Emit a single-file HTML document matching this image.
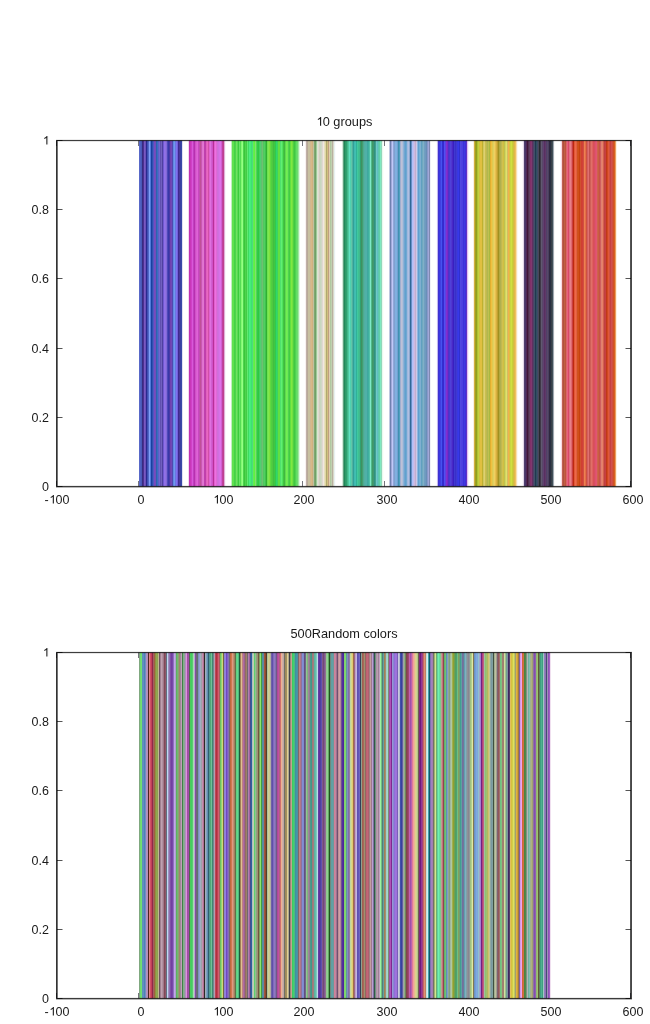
<!DOCTYPE html>
<html><head><meta charset="utf-8"><style>
html,body{margin:0;padding:0;background:#fff;width:650px;height:1024px;overflow:hidden}
body{position:relative}
.o{display:inline-block;position:relative;width:0.556em;height:0}.o svg{position:absolute;left:0;bottom:0;width:0.556em;height:0.688em;fill:#1a1a1a;overflow:visible}
.t{position:absolute;font-family:'Liberation Sans',sans-serif;font-size:12.5px;line-height:14px;color:#1a1a1a;white-space:nowrap;will-change:transform}
</style></head><body>
<svg width="650" height="1024" viewBox="0 0 650 1024" style="position:absolute;left:0;top:0"><line x1="57.0" y1="486.5" x2="62.5" y2="486.5" stroke="#555555" stroke-width="1"/><line x1="631.0" y1="486.5" x2="625.5" y2="486.5" stroke="#555555" stroke-width="1"/><line x1="57.0" y1="417.5" x2="62.5" y2="417.5" stroke="#555555" stroke-width="1"/><line x1="631.0" y1="417.5" x2="625.5" y2="417.5" stroke="#555555" stroke-width="1"/><line x1="57.0" y1="348.5" x2="62.5" y2="348.5" stroke="#555555" stroke-width="1"/><line x1="631.0" y1="348.5" x2="625.5" y2="348.5" stroke="#555555" stroke-width="1"/><line x1="57.0" y1="278.5" x2="62.5" y2="278.5" stroke="#555555" stroke-width="1"/><line x1="631.0" y1="278.5" x2="625.5" y2="278.5" stroke="#555555" stroke-width="1"/><line x1="57.0" y1="209.5" x2="62.5" y2="209.5" stroke="#555555" stroke-width="1"/><line x1="631.0" y1="209.5" x2="625.5" y2="209.5" stroke="#555555" stroke-width="1"/><line x1="57.0" y1="140.5" x2="62.5" y2="140.5" stroke="#555555" stroke-width="1"/><line x1="631.0" y1="140.5" x2="625.5" y2="140.5" stroke="#555555" stroke-width="1"/><line x1="56.5" y1="486.5" x2="56.5" y2="481.0" stroke="#75757d" stroke-width="1"/><line x1="56.5" y1="140.5" x2="56.5" y2="146.0" stroke="#75757d" stroke-width="1"/><line x1="138.5" y1="486.5" x2="138.5" y2="481.0" stroke="#75757d" stroke-width="1"/><line x1="138.5" y1="140.5" x2="138.5" y2="146.0" stroke="#75757d" stroke-width="1"/><line x1="220.5" y1="486.5" x2="220.5" y2="481.0" stroke="#75757d" stroke-width="1"/><line x1="220.5" y1="140.5" x2="220.5" y2="146.0" stroke="#75757d" stroke-width="1"/><line x1="302.5" y1="486.5" x2="302.5" y2="481.0" stroke="#75757d" stroke-width="1"/><line x1="302.5" y1="140.5" x2="302.5" y2="146.0" stroke="#75757d" stroke-width="1"/><line x1="384.5" y1="486.5" x2="384.5" y2="481.0" stroke="#75757d" stroke-width="1"/><line x1="384.5" y1="140.5" x2="384.5" y2="146.0" stroke="#75757d" stroke-width="1"/><line x1="466.5" y1="486.5" x2="466.5" y2="481.0" stroke="#75757d" stroke-width="1"/><line x1="466.5" y1="140.5" x2="466.5" y2="146.0" stroke="#75757d" stroke-width="1"/><line x1="548.5" y1="486.5" x2="548.5" y2="481.0" stroke="#75757d" stroke-width="1"/><line x1="548.5" y1="140.5" x2="548.5" y2="146.0" stroke="#75757d" stroke-width="1"/><line x1="630.5" y1="486.5" x2="630.5" y2="481.0" stroke="#75757d" stroke-width="1"/><line x1="630.5" y1="140.5" x2="630.5" y2="146.0" stroke="#75757d" stroke-width="1"/><rect x="139.00" y="140.5" width="1.00" height="346.0" fill="#5868c8"/><rect x="140.00" y="140.5" width="1.00" height="346.0" fill="#5060c0"/><rect x="141.00" y="140.5" width="1.00" height="346.0" fill="#4858b8"/><rect x="142.00" y="140.5" width="1.00" height="346.0" fill="#3a2a80"/><rect x="143.00" y="140.5" width="1.00" height="346.0" fill="#4a3090"/><rect x="144.00" y="140.5" width="1.00" height="346.0" fill="#7a58c0"/><rect x="145.00" y="140.5" width="1.00" height="346.0" fill="#6a50b8"/><rect x="146.00" y="140.5" width="1.00" height="346.0" fill="#2a2890"/><rect x="147.00" y="140.5" width="1.00" height="346.0" fill="#4050b0"/><rect x="148.00" y="140.5" width="1.00" height="346.0" fill="#5068c8"/><rect x="149.00" y="140.5" width="1.00" height="346.0" fill="#80a0f8"/><rect x="150.00" y="140.5" width="1.00" height="346.0" fill="#5078d8"/><rect x="151.00" y="140.5" width="1.00" height="346.0" fill="#1840a0"/><rect x="152.00" y="140.5" width="1.00" height="346.0" fill="#3050b0"/><rect x="153.00" y="140.5" width="1.00" height="346.0" fill="#5058c0"/><rect x="154.00" y="140.5" width="1.00" height="346.0" fill="#7a48c0"/><rect x="155.00" y="140.5" width="1.00" height="346.0" fill="#7050b8"/><rect x="156.00" y="140.5" width="1.00" height="346.0" fill="#3060b0"/><rect x="157.00" y="140.5" width="1.00" height="346.0" fill="#3870c0"/><rect x="158.00" y="140.5" width="1.00" height="346.0" fill="#5a60c8"/><rect x="159.00" y="140.5" width="1.00" height="346.0" fill="#7068d0"/><rect x="160.00" y="140.5" width="1.00" height="346.0" fill="#6050b0"/><rect x="161.00" y="140.5" width="1.00" height="346.0" fill="#7060c0"/><rect x="162.00" y="140.5" width="1.00" height="346.0" fill="#5040a0"/><rect x="163.00" y="140.5" width="1.00" height="346.0" fill="#7058d0"/><rect x="164.00" y="140.5" width="1.00" height="346.0" fill="#9070e8"/><rect x="165.00" y="140.5" width="1.00" height="346.0" fill="#9070e0"/><rect x="166.00" y="140.5" width="1.00" height="346.0" fill="#8068d8"/><rect x="167.00" y="140.5" width="1.00" height="346.0" fill="#5048b8"/><rect x="168.00" y="140.5" width="1.00" height="346.0" fill="#3838a8"/><rect x="169.00" y="140.5" width="1.00" height="346.0" fill="#4838a8"/><rect x="170.00" y="140.5" width="1.00" height="346.0" fill="#7040b0"/><rect x="171.00" y="140.5" width="1.00" height="346.0" fill="#7048b8"/><rect x="172.00" y="140.5" width="1.00" height="346.0" fill="#5048b0"/><rect x="173.00" y="140.5" width="1.00" height="346.0" fill="#6088e0"/><rect x="174.00" y="140.5" width="1.00" height="346.0" fill="#7098f0"/><rect x="175.00" y="140.5" width="1.00" height="346.0" fill="#6878e0"/><rect x="176.00" y="140.5" width="1.00" height="346.0" fill="#8070f0"/><rect x="177.00" y="140.5" width="1.00" height="346.0" fill="#7060d8"/><rect x="178.00" y="140.5" width="1.00" height="346.0" fill="#402890"/><rect x="179.00" y="140.5" width="1.00" height="346.0" fill="#483898"/><rect x="180.00" y="140.5" width="1.00" height="346.0" fill="#3840a0"/><rect x="181.00" y="140.5" width="1.00" height="346.0" fill="#3848a8"/><rect x="182.00" y="140.5" width="1.00" height="346.0" fill="#e0e0f0"/><rect x="188.00" y="140.5" width="1.00" height="346.0" fill="#f0d8f0"/><rect x="189.00" y="140.5" width="1.00" height="346.0" fill="#c030b0"/><rect x="190.00" y="140.5" width="1.00" height="346.0" fill="#c838b8"/><rect x="191.00" y="140.5" width="1.00" height="346.0" fill="#d040c8"/><rect x="192.00" y="140.5" width="1.00" height="346.0" fill="#d858d8"/><rect x="193.00" y="140.5" width="1.00" height="346.0" fill="#c040c0"/><rect x="194.00" y="140.5" width="1.00" height="346.0" fill="#b830b0"/><rect x="195.00" y="140.5" width="1.00" height="346.0" fill="#d050c8"/><rect x="196.00" y="140.5" width="1.00" height="346.0" fill="#d860d0"/><rect x="197.00" y="140.5" width="1.00" height="346.0" fill="#e060d8"/><rect x="198.00" y="140.5" width="1.00" height="346.0" fill="#c848c0"/><rect x="199.00" y="140.5" width="1.00" height="346.0" fill="#c050b0"/><rect x="200.00" y="140.5" width="1.00" height="346.0" fill="#c05098"/><rect x="201.00" y="140.5" width="1.00" height="346.0" fill="#c858b0"/><rect x="202.00" y="140.5" width="1.00" height="346.0" fill="#e070d0"/><rect x="203.00" y="140.5" width="1.00" height="346.0" fill="#e078d0"/><rect x="204.00" y="140.5" width="1.00" height="346.0" fill="#c040b0"/><rect x="205.00" y="140.5" width="1.00" height="346.0" fill="#c040a8"/><rect x="206.00" y="140.5" width="1.00" height="346.0" fill="#e060c0"/><rect x="207.00" y="140.5" width="1.00" height="346.0" fill="#e868c0"/><rect x="208.00" y="140.5" width="1.00" height="346.0" fill="#d050a8"/><rect x="209.00" y="140.5" width="1.00" height="346.0" fill="#e060d0"/><rect x="210.00" y="140.5" width="1.00" height="346.0" fill="#e070e0"/><rect x="211.00" y="140.5" width="1.00" height="346.0" fill="#d060d0"/><rect x="212.00" y="140.5" width="1.00" height="346.0" fill="#d050c8"/><rect x="213.00" y="140.5" width="1.00" height="346.0" fill="#b83098"/><rect x="214.00" y="140.5" width="1.00" height="346.0" fill="#e060d0"/><rect x="215.00" y="140.5" width="1.00" height="346.0" fill="#f070e0"/><rect x="216.00" y="140.5" width="1.00" height="346.0" fill="#e068d8"/><rect x="217.00" y="140.5" width="1.00" height="346.0" fill="#d070d8"/><rect x="218.00" y="140.5" width="1.00" height="346.0" fill="#d070e0"/><rect x="219.00" y="140.5" width="1.00" height="346.0" fill="#d870e8"/><rect x="220.00" y="140.5" width="1.00" height="346.0" fill="#e070e8"/><rect x="221.00" y="140.5" width="1.00" height="346.0" fill="#d060d0"/><rect x="222.00" y="140.5" width="1.00" height="346.0" fill="#c040a0"/><rect x="223.00" y="140.5" width="1.00" height="346.0" fill="#c04090"/><rect x="224.00" y="140.5" width="1.00" height="346.0" fill="#e0b0d8"/><rect x="225.00" y="140.5" width="1.00" height="346.0" fill="#fbf4fb"/><rect x="231.00" y="140.5" width="1.00" height="346.0" fill="#c0f0c0"/><rect x="232.00" y="140.5" width="1.00" height="346.0" fill="#60e050"/><rect x="233.00" y="140.5" width="1.00" height="346.0" fill="#60e050"/><rect x="234.00" y="140.5" width="1.00" height="346.0" fill="#45d345"/><rect x="235.00" y="140.5" width="1.00" height="346.0" fill="#4ed34e"/><rect x="236.00" y="140.5" width="1.00" height="346.0" fill="#70e25f"/><rect x="237.00" y="140.5" width="1.00" height="346.0" fill="#56db56"/><rect x="238.00" y="140.5" width="1.00" height="346.0" fill="#3ccb3c"/><rect x="239.00" y="140.5" width="1.00" height="346.0" fill="#68e268"/><rect x="240.00" y="140.5" width="1.00" height="346.0" fill="#56db56"/><rect x="241.00" y="140.5" width="1.00" height="346.0" fill="#82fa71"/><rect x="242.00" y="140.5" width="1.00" height="346.0" fill="#95ff84"/><rect x="243.00" y="140.5" width="1.00" height="346.0" fill="#4ed34e"/><rect x="244.00" y="140.5" width="1.00" height="346.0" fill="#39c739"/><rect x="245.00" y="140.5" width="1.00" height="346.0" fill="#4ed34e"/><rect x="246.00" y="140.5" width="1.00" height="346.0" fill="#45cb45"/><rect x="247.00" y="140.5" width="1.00" height="346.0" fill="#5feb70"/><rect x="248.00" y="140.5" width="1.00" height="346.0" fill="#3cdc60"/><rect x="249.00" y="140.5" width="1.00" height="346.0" fill="#4dec82"/><rect x="250.00" y="140.5" width="1.00" height="346.0" fill="#45ec7a"/><rect x="251.00" y="140.5" width="1.00" height="346.0" fill="#3ce471"/><rect x="252.00" y="140.5" width="1.00" height="346.0" fill="#50d880"/><rect x="253.00" y="140.5" width="1.00" height="346.0" fill="#60f050"/><rect x="254.00" y="140.5" width="1.00" height="346.0" fill="#60f040"/><rect x="255.00" y="140.5" width="1.00" height="346.0" fill="#80e070"/><rect x="256.00" y="140.5" width="1.00" height="346.0" fill="#50d850"/><rect x="257.00" y="140.5" width="1.00" height="346.0" fill="#30c850"/><rect x="258.00" y="140.5" width="1.00" height="346.0" fill="#30c840"/><rect x="259.00" y="140.5" width="1.00" height="346.0" fill="#40d060"/><rect x="260.00" y="140.5" width="1.00" height="346.0" fill="#50d070"/><rect x="261.00" y="140.5" width="1.00" height="346.0" fill="#60c070"/><rect x="262.00" y="140.5" width="1.00" height="346.0" fill="#70c070"/><rect x="263.00" y="140.5" width="1.00" height="346.0" fill="#50c860"/><rect x="264.00" y="140.5" width="1.00" height="346.0" fill="#50d060"/><rect x="265.00" y="140.5" width="1.00" height="346.0" fill="#40c050"/><rect x="266.00" y="140.5" width="1.00" height="346.0" fill="#30b030"/><rect x="267.00" y="140.5" width="1.00" height="346.0" fill="#70e050"/><rect x="268.00" y="140.5" width="1.00" height="346.0" fill="#80e850"/><rect x="269.00" y="140.5" width="1.00" height="346.0" fill="#80e040"/><rect x="270.00" y="140.5" width="1.00" height="346.0" fill="#60d840"/><rect x="271.00" y="140.5" width="1.00" height="346.0" fill="#50d040"/><rect x="272.00" y="140.5" width="1.00" height="346.0" fill="#50c840"/><rect x="273.00" y="140.5" width="1.00" height="346.0" fill="#40c040"/><rect x="274.00" y="140.5" width="1.00" height="346.0" fill="#40c840"/><rect x="275.00" y="140.5" width="1.00" height="346.0" fill="#30c850"/><rect x="276.00" y="140.5" width="1.00" height="346.0" fill="#30d868"/><rect x="277.00" y="140.5" width="1.00" height="346.0" fill="#40d060"/><rect x="278.00" y="140.5" width="1.00" height="346.0" fill="#60e040"/><rect x="279.00" y="140.5" width="1.00" height="346.0" fill="#60e040"/><rect x="280.00" y="140.5" width="1.00" height="346.0" fill="#50e070"/><rect x="281.00" y="140.5" width="1.00" height="346.0" fill="#60f070"/><rect x="282.00" y="140.5" width="1.00" height="346.0" fill="#50e060"/><rect x="283.00" y="140.5" width="1.00" height="346.0" fill="#40c840"/><rect x="284.00" y="140.5" width="1.00" height="346.0" fill="#40b840"/><rect x="285.00" y="140.5" width="1.00" height="346.0" fill="#60d850"/><rect x="286.00" y="140.5" width="1.00" height="346.0" fill="#70f050"/><rect x="287.00" y="140.5" width="1.00" height="346.0" fill="#70e858"/><rect x="288.00" y="140.5" width="1.00" height="346.0" fill="#50d050"/><rect x="289.00" y="140.5" width="1.00" height="346.0" fill="#40d040"/><rect x="290.00" y="140.5" width="1.00" height="346.0" fill="#60e040"/><rect x="291.00" y="140.5" width="1.00" height="346.0" fill="#80e840"/><rect x="292.00" y="140.5" width="1.00" height="346.0" fill="#70e040"/><rect x="293.00" y="140.5" width="1.00" height="346.0" fill="#50d040"/><rect x="294.00" y="140.5" width="1.00" height="346.0" fill="#40c840"/><rect x="295.00" y="140.5" width="1.00" height="346.0" fill="#50d050"/><rect x="296.00" y="140.5" width="1.00" height="346.0" fill="#60e060"/><rect x="297.00" y="140.5" width="1.00" height="346.0" fill="#70d870"/><rect x="298.00" y="140.5" width="1.00" height="346.0" fill="#a0e8a0"/><rect x="299.00" y="140.5" width="1.00" height="346.0" fill="#e0f8e0"/><rect x="305.00" y="140.5" width="1.00" height="346.0" fill="#f8f0f0"/><rect x="306.00" y="140.5" width="1.00" height="346.0" fill="#c0b0a8"/><rect x="307.00" y="140.5" width="1.00" height="346.0" fill="#b8a898"/><rect x="308.00" y="140.5" width="1.00" height="346.0" fill="#c8c0a0"/><rect x="309.00" y="140.5" width="1.00" height="346.0" fill="#c8c0a0"/><rect x="310.00" y="140.5" width="1.00" height="346.0" fill="#d0b890"/><rect x="311.00" y="140.5" width="1.00" height="346.0" fill="#d8b888"/><rect x="312.00" y="140.5" width="1.00" height="346.0" fill="#d0b080"/><rect x="313.00" y="140.5" width="1.00" height="346.0" fill="#c0c0a0"/><rect x="314.00" y="140.5" width="1.00" height="346.0" fill="#80a870"/><rect x="315.00" y="140.5" width="1.00" height="346.0" fill="#70a068"/><rect x="316.00" y="140.5" width="1.00" height="346.0" fill="#a0c898"/><rect x="317.00" y="140.5" width="1.00" height="346.0" fill="#d8e8d0"/><rect x="318.00" y="140.5" width="1.00" height="346.0" fill="#e0d8d0"/><rect x="319.00" y="140.5" width="1.00" height="346.0" fill="#d0d0c0"/><rect x="320.00" y="140.5" width="1.00" height="346.0" fill="#c8d8c0"/><rect x="321.00" y="140.5" width="1.00" height="346.0" fill="#d0d8c8"/><rect x="322.00" y="140.5" width="1.00" height="346.0" fill="#e0d8d0"/><rect x="323.00" y="140.5" width="1.00" height="346.0" fill="#f0e8e0"/><rect x="324.00" y="140.5" width="1.00" height="346.0" fill="#e8e0c0"/><rect x="325.00" y="140.5" width="1.00" height="346.0" fill="#e0d8a0"/><rect x="326.00" y="140.5" width="1.00" height="346.0" fill="#b0a870"/><rect x="327.00" y="140.5" width="1.00" height="346.0" fill="#d0c080"/><rect x="328.00" y="140.5" width="1.00" height="346.0" fill="#c0a080"/><rect x="329.00" y="140.5" width="1.00" height="346.0" fill="#e0d0b0"/><rect x="330.00" y="140.5" width="1.00" height="346.0" fill="#b0c8a0"/><rect x="331.00" y="140.5" width="1.00" height="346.0" fill="#c0d0b0"/><rect x="332.00" y="140.5" width="1.00" height="346.0" fill="#b8b0a0"/><rect x="333.00" y="140.5" width="1.00" height="346.0" fill="#d8d8c8"/><rect x="334.00" y="140.5" width="1.00" height="346.0" fill="#e8f0f0"/><rect x="335.00" y="140.5" width="1.00" height="346.0" fill="#fafdfd"/><rect x="341.00" y="140.5" width="1.00" height="346.0" fill="#fcfffe"/><rect x="342.00" y="140.5" width="1.00" height="346.0" fill="#d0e8d8"/><rect x="343.00" y="140.5" width="1.00" height="346.0" fill="#60a080"/><rect x="344.00" y="140.5" width="1.00" height="346.0" fill="#208858"/><rect x="345.00" y="140.5" width="1.00" height="346.0" fill="#309868"/><rect x="346.00" y="140.5" width="1.00" height="346.0" fill="#30a070"/><rect x="347.00" y="140.5" width="1.00" height="346.0" fill="#40b888"/><rect x="348.00" y="140.5" width="1.00" height="346.0" fill="#50c8a0"/><rect x="349.00" y="140.5" width="1.00" height="346.0" fill="#60e0c0"/><rect x="350.00" y="140.5" width="1.00" height="346.0" fill="#50d0b0"/><rect x="351.00" y="140.5" width="1.00" height="346.0" fill="#60c8a8"/><rect x="352.00" y="140.5" width="1.00" height="346.0" fill="#50b0a0"/><rect x="353.00" y="140.5" width="1.00" height="346.0" fill="#30a098"/><rect x="354.00" y="140.5" width="1.00" height="346.0" fill="#40b8b0"/><rect x="355.00" y="140.5" width="1.00" height="346.0" fill="#40c0b0"/><rect x="356.00" y="140.5" width="1.00" height="346.0" fill="#30b098"/><rect x="357.00" y="140.5" width="1.00" height="346.0" fill="#40c8a0"/><rect x="358.00" y="140.5" width="1.00" height="346.0" fill="#40c090"/><rect x="359.00" y="140.5" width="1.00" height="346.0" fill="#40b890"/><rect x="360.00" y="140.5" width="1.00" height="346.0" fill="#30a070"/><rect x="361.00" y="140.5" width="1.00" height="346.0" fill="#409060"/><rect x="362.00" y="140.5" width="1.00" height="346.0" fill="#40a070"/><rect x="363.00" y="140.5" width="1.00" height="346.0" fill="#50a890"/><rect x="364.00" y="140.5" width="1.00" height="346.0" fill="#50b0a0"/><rect x="365.00" y="140.5" width="1.00" height="346.0" fill="#50b0a8"/><rect x="366.00" y="140.5" width="1.00" height="346.0" fill="#50b0a8"/><rect x="367.00" y="140.5" width="1.00" height="346.0" fill="#40a8a0"/><rect x="368.00" y="140.5" width="1.00" height="346.0" fill="#40b0a0"/><rect x="369.00" y="140.5" width="1.00" height="346.0" fill="#50c0a8"/><rect x="370.00" y="140.5" width="1.00" height="346.0" fill="#80e8c8"/><rect x="371.00" y="140.5" width="1.00" height="346.0" fill="#50b888"/><rect x="372.00" y="140.5" width="1.00" height="346.0" fill="#409868"/><rect x="373.00" y="140.5" width="1.00" height="346.0" fill="#409870"/><rect x="374.00" y="140.5" width="1.00" height="346.0" fill="#309080"/><rect x="375.00" y="140.5" width="1.00" height="346.0" fill="#40a090"/><rect x="376.00" y="140.5" width="1.00" height="346.0" fill="#70c8c8"/><rect x="377.00" y="140.5" width="1.00" height="346.0" fill="#60c0c0"/><rect x="378.00" y="140.5" width="1.00" height="346.0" fill="#60c8b0"/><rect x="379.00" y="140.5" width="1.00" height="346.0" fill="#60d0a8"/><rect x="380.00" y="140.5" width="1.00" height="346.0" fill="#80e8c0"/><rect x="381.00" y="140.5" width="1.00" height="346.0" fill="#90d8b8"/><rect x="382.00" y="140.5" width="1.00" height="346.0" fill="#e8f8f0"/><rect x="383.00" y="140.5" width="1.00" height="346.0" fill="#fcfff8"/><rect x="389.00" y="140.5" width="1.00" height="346.0" fill="#c0c8e0"/><rect x="390.00" y="140.5" width="1.00" height="346.0" fill="#7080b0"/><rect x="391.00" y="140.5" width="1.00" height="346.0" fill="#a0a8d8"/><rect x="392.00" y="140.5" width="1.00" height="346.0" fill="#c0c8f8"/><rect x="393.00" y="140.5" width="1.00" height="346.0" fill="#90a8d8"/><rect x="394.00" y="140.5" width="1.00" height="346.0" fill="#80a0d0"/><rect x="395.00" y="140.5" width="1.00" height="346.0" fill="#80b0e0"/><rect x="396.00" y="140.5" width="1.00" height="346.0" fill="#80b0e0"/><rect x="397.00" y="140.5" width="1.00" height="346.0" fill="#70a0d0"/><rect x="398.00" y="140.5" width="1.00" height="346.0" fill="#4090b0"/><rect x="399.00" y="140.5" width="1.00" height="346.0" fill="#50a0c0"/><rect x="400.00" y="140.5" width="1.00" height="346.0" fill="#a0b0d0"/><rect x="401.00" y="140.5" width="1.00" height="346.0" fill="#c0c0d8"/><rect x="402.00" y="140.5" width="1.00" height="346.0" fill="#b0c0d8"/><rect x="403.00" y="140.5" width="1.00" height="346.0" fill="#90b0d8"/><rect x="404.00" y="140.5" width="1.00" height="346.0" fill="#70a8d0"/><rect x="405.00" y="140.5" width="1.00" height="346.0" fill="#60a0d0"/><rect x="406.00" y="140.5" width="1.00" height="346.0" fill="#70a8d0"/><rect x="407.00" y="140.5" width="1.00" height="346.0" fill="#a0b8e0"/><rect x="408.00" y="140.5" width="1.00" height="346.0" fill="#b0c0e0"/><rect x="409.00" y="140.5" width="1.00" height="346.0" fill="#90a8d0"/><rect x="410.00" y="140.5" width="1.00" height="346.0" fill="#306898"/><rect x="411.00" y="140.5" width="1.00" height="346.0" fill="#6890c8"/><rect x="412.00" y="140.5" width="1.00" height="346.0" fill="#b0c0f8"/><rect x="413.00" y="140.5" width="1.00" height="346.0" fill="#c0c0f0"/><rect x="414.00" y="140.5" width="1.00" height="346.0" fill="#d0b8e0"/><rect x="415.00" y="140.5" width="1.00" height="346.0" fill="#c0b0d0"/><rect x="416.00" y="140.5" width="1.00" height="346.0" fill="#d0c8e8"/><rect x="417.00" y="140.5" width="1.00" height="346.0" fill="#90b8e0"/><rect x="418.00" y="140.5" width="1.00" height="346.0" fill="#60a0d0"/><rect x="419.00" y="140.5" width="1.00" height="346.0" fill="#70b0d8"/><rect x="420.00" y="140.5" width="1.00" height="346.0" fill="#80b0d0"/><rect x="421.00" y="140.5" width="1.00" height="346.0" fill="#60a0c0"/><rect x="422.00" y="140.5" width="1.00" height="346.0" fill="#70a8c0"/><rect x="423.00" y="140.5" width="1.00" height="346.0" fill="#80b0c8"/><rect x="424.00" y="140.5" width="1.00" height="346.0" fill="#70a0c0"/><rect x="425.00" y="140.5" width="1.00" height="346.0" fill="#7098c0"/><rect x="426.00" y="140.5" width="1.00" height="346.0" fill="#6890b8"/><rect x="427.00" y="140.5" width="1.00" height="346.0" fill="#8898c8"/><rect x="428.00" y="140.5" width="1.00" height="346.0" fill="#a0a8d8"/><rect x="429.00" y="140.5" width="1.00" height="346.0" fill="#8088b0"/><rect x="430.00" y="140.5" width="1.00" height="346.0" fill="#f0f0f8"/><rect x="436.00" y="140.5" width="1.00" height="346.0" fill="#fcfaff"/><rect x="437.00" y="140.5" width="1.00" height="346.0" fill="#c0b8f0"/><rect x="438.00" y="140.5" width="1.00" height="346.0" fill="#4030d0"/><rect x="439.00" y="140.5" width="1.00" height="346.0" fill="#3838e0"/><rect x="440.00" y="140.5" width="1.00" height="346.0" fill="#4040e0"/><rect x="441.00" y="140.5" width="1.00" height="346.0" fill="#4850f0"/><rect x="442.00" y="140.5" width="1.00" height="346.0" fill="#3030d0"/><rect x="443.00" y="140.5" width="1.00" height="346.0" fill="#3828d0"/><rect x="444.00" y="140.5" width="1.00" height="346.0" fill="#5050f0"/><rect x="445.00" y="140.5" width="1.00" height="346.0" fill="#6040e0"/><rect x="446.00" y="140.5" width="1.00" height="346.0" fill="#8030d0"/><rect x="447.00" y="140.5" width="1.00" height="346.0" fill="#7828c8"/><rect x="448.00" y="140.5" width="1.00" height="346.0" fill="#5030c8"/><rect x="449.00" y="140.5" width="1.00" height="346.0" fill="#4838d0"/><rect x="450.00" y="140.5" width="1.00" height="346.0" fill="#5040d8"/><rect x="451.00" y="140.5" width="1.00" height="346.0" fill="#5038d0"/><rect x="452.00" y="140.5" width="1.00" height="346.0" fill="#4828c8"/><rect x="453.00" y="140.5" width="1.00" height="346.0" fill="#3820c0"/><rect x="454.00" y="140.5" width="1.00" height="346.0" fill="#4038d0"/><rect x="455.00" y="140.5" width="1.00" height="346.0" fill="#3830c8"/><rect x="456.00" y="140.5" width="1.00" height="346.0" fill="#4038d0"/><rect x="457.00" y="140.5" width="1.00" height="346.0" fill="#3838e0"/><rect x="458.00" y="140.5" width="1.00" height="346.0" fill="#3838e8"/><rect x="459.00" y="140.5" width="1.00" height="346.0" fill="#3030d0"/><rect x="460.00" y="140.5" width="1.00" height="346.0" fill="#5048e0"/><rect x="461.00" y="140.5" width="1.00" height="346.0" fill="#5040e0"/><rect x="462.00" y="140.5" width="1.00" height="346.0" fill="#4840e0"/><rect x="463.00" y="140.5" width="1.00" height="346.0" fill="#4030d8"/><rect x="464.00" y="140.5" width="1.00" height="346.0" fill="#4038e0"/><rect x="465.00" y="140.5" width="1.00" height="346.0" fill="#4030d8"/><rect x="466.00" y="140.5" width="1.00" height="346.0" fill="#6030c8"/><rect x="467.00" y="140.5" width="1.00" height="346.0" fill="#e0c0f0"/><rect x="468.00" y="140.5" width="1.00" height="346.0" fill="#f8f0ff"/><rect x="473.00" y="140.5" width="1.00" height="346.0" fill="#f8f0e0"/><rect x="474.00" y="140.5" width="1.00" height="346.0" fill="#d0b040"/><rect x="475.00" y="140.5" width="1.00" height="346.0" fill="#a0a020"/><rect x="476.00" y="140.5" width="1.00" height="346.0" fill="#90a020"/><rect x="477.00" y="140.5" width="1.00" height="346.0" fill="#b0c030"/><rect x="478.00" y="140.5" width="1.00" height="346.0" fill="#c0d040"/><rect x="479.00" y="140.5" width="1.00" height="346.0" fill="#d0c040"/><rect x="480.00" y="140.5" width="1.00" height="346.0" fill="#e0c040"/><rect x="481.00" y="140.5" width="1.00" height="346.0" fill="#e0c040"/><rect x="482.00" y="140.5" width="1.00" height="346.0" fill="#c0b030"/><rect x="483.00" y="140.5" width="1.00" height="346.0" fill="#d0c860"/><rect x="484.00" y="140.5" width="1.00" height="346.0" fill="#e0d070"/><rect x="485.00" y="140.5" width="1.00" height="346.0" fill="#c8c050"/><rect x="486.00" y="140.5" width="1.00" height="346.0" fill="#c0b850"/><rect x="487.00" y="140.5" width="1.00" height="346.0" fill="#b0b850"/><rect x="488.00" y="140.5" width="1.00" height="346.0" fill="#c0c050"/><rect x="489.00" y="140.5" width="1.00" height="346.0" fill="#a8b840"/><rect x="490.00" y="140.5" width="1.00" height="346.0" fill="#e0b030"/><rect x="491.00" y="140.5" width="1.00" height="346.0" fill="#f0c040"/><rect x="492.00" y="140.5" width="1.00" height="346.0" fill="#e0c850"/><rect x="493.00" y="140.5" width="1.00" height="346.0" fill="#e0d060"/><rect x="494.00" y="140.5" width="1.00" height="346.0" fill="#f0d060"/><rect x="495.00" y="140.5" width="1.00" height="346.0" fill="#e8c050"/><rect x="496.00" y="140.5" width="1.00" height="346.0" fill="#d8b040"/><rect x="497.00" y="140.5" width="1.00" height="346.0" fill="#c0a030"/><rect x="498.00" y="140.5" width="1.00" height="346.0" fill="#a09020"/><rect x="499.00" y="140.5" width="1.00" height="346.0" fill="#b0a840"/><rect x="500.00" y="140.5" width="1.00" height="346.0" fill="#b0b050"/><rect x="501.00" y="140.5" width="1.00" height="346.0" fill="#c0b850"/><rect x="502.00" y="140.5" width="1.00" height="346.0" fill="#d0c050"/><rect x="503.00" y="140.5" width="1.00" height="346.0" fill="#d0c040"/><rect x="504.00" y="140.5" width="1.00" height="346.0" fill="#c0c050"/><rect x="505.00" y="140.5" width="1.00" height="346.0" fill="#d0d860"/><rect x="506.00" y="140.5" width="1.00" height="346.0" fill="#e0e070"/><rect x="507.00" y="140.5" width="1.00" height="346.0" fill="#d0c060"/><rect x="508.00" y="140.5" width="1.00" height="346.0" fill="#f0b050"/><rect x="509.00" y="140.5" width="1.00" height="346.0" fill="#e0c040"/><rect x="510.00" y="140.5" width="1.00" height="346.0" fill="#c8d840"/><rect x="511.00" y="140.5" width="1.00" height="346.0" fill="#d0e040"/><rect x="512.00" y="140.5" width="1.00" height="346.0" fill="#c8d038"/><rect x="513.00" y="140.5" width="1.00" height="346.0" fill="#d0c040"/><rect x="514.00" y="140.5" width="1.00" height="346.0" fill="#e0b848"/><rect x="515.00" y="140.5" width="1.00" height="346.0" fill="#f0c060"/><rect x="516.00" y="140.5" width="1.00" height="346.0" fill="#f8e0b0"/><rect x="517.00" y="140.5" width="1.00" height="346.0" fill="#fcf8f0"/><rect x="522.00" y="140.5" width="1.00" height="346.0" fill="#fcf8fc"/><rect x="523.00" y="140.5" width="1.00" height="346.0" fill="#e0d8e8"/><rect x="524.00" y="140.5" width="1.00" height="346.0" fill="#504070"/><rect x="525.00" y="140.5" width="1.00" height="346.0" fill="#483868"/><rect x="526.00" y="140.5" width="1.00" height="346.0" fill="#502858"/><rect x="527.00" y="140.5" width="1.00" height="346.0" fill="#401838"/><rect x="528.00" y="140.5" width="1.00" height="346.0" fill="#503050"/><rect x="529.00" y="140.5" width="1.00" height="346.0" fill="#604060"/><rect x="530.00" y="140.5" width="1.00" height="346.0" fill="#803068"/><rect x="531.00" y="140.5" width="1.00" height="346.0" fill="#803870"/><rect x="532.00" y="140.5" width="1.00" height="346.0" fill="#603060"/><rect x="533.00" y="140.5" width="1.00" height="346.0" fill="#504068"/><rect x="534.00" y="140.5" width="1.00" height="346.0" fill="#405068"/><rect x="535.00" y="140.5" width="1.00" height="346.0" fill="#203850"/><rect x="536.00" y="140.5" width="1.00" height="346.0" fill="#305060"/><rect x="537.00" y="140.5" width="1.00" height="346.0" fill="#404868"/><rect x="538.00" y="140.5" width="1.00" height="346.0" fill="#484858"/><rect x="539.00" y="140.5" width="1.00" height="346.0" fill="#282830"/><rect x="540.00" y="140.5" width="1.00" height="346.0" fill="#403848"/><rect x="541.00" y="140.5" width="1.00" height="346.0" fill="#605870"/><rect x="542.00" y="140.5" width="1.00" height="346.0" fill="#584868"/><rect x="543.00" y="140.5" width="1.00" height="346.0" fill="#604070"/><rect x="544.00" y="140.5" width="1.00" height="346.0" fill="#583060"/><rect x="545.00" y="140.5" width="1.00" height="346.0" fill="#603868"/><rect x="546.00" y="140.5" width="1.00" height="346.0" fill="#504068"/><rect x="547.00" y="140.5" width="1.00" height="346.0" fill="#584868"/><rect x="548.00" y="140.5" width="1.00" height="346.0" fill="#484060"/><rect x="549.00" y="140.5" width="1.00" height="346.0" fill="#302840"/><rect x="550.00" y="140.5" width="1.00" height="346.0" fill="#283040"/><rect x="551.00" y="140.5" width="1.00" height="346.0" fill="#384048"/><rect x="552.00" y="140.5" width="1.00" height="346.0" fill="#405058"/><rect x="553.00" y="140.5" width="1.00" height="346.0" fill="#a0a8b0"/><rect x="554.00" y="140.5" width="1.00" height="346.0" fill="#f8f8f8"/><rect x="560.00" y="140.5" width="1.00" height="346.0" fill="#fff4fc"/><rect x="561.00" y="140.5" width="1.00" height="346.0" fill="#f8d8e0"/><rect x="562.00" y="140.5" width="1.00" height="346.0" fill="#c06050"/><rect x="563.00" y="140.5" width="1.00" height="346.0" fill="#b05040"/><rect x="564.00" y="140.5" width="1.00" height="346.0" fill="#c06040"/><rect x="565.00" y="140.5" width="1.00" height="346.0" fill="#c05040"/><rect x="566.00" y="140.5" width="1.00" height="346.0" fill="#d86868"/><rect x="567.00" y="140.5" width="1.00" height="346.0" fill="#e86080"/><rect x="568.00" y="140.5" width="1.00" height="346.0" fill="#d84868"/><rect x="569.00" y="140.5" width="1.00" height="346.0" fill="#e07080"/><rect x="570.00" y="140.5" width="1.00" height="346.0" fill="#e88088"/><rect x="571.00" y="140.5" width="1.00" height="346.0" fill="#e06870"/><rect x="572.00" y="140.5" width="1.00" height="346.0" fill="#c84040"/><rect x="573.00" y="140.5" width="1.00" height="346.0" fill="#c02810"/><rect x="574.00" y="140.5" width="1.00" height="346.0" fill="#e05838"/><rect x="575.00" y="140.5" width="1.00" height="346.0" fill="#f06848"/><rect x="576.00" y="140.5" width="1.00" height="346.0" fill="#e06040"/><rect x="577.00" y="140.5" width="1.00" height="346.0" fill="#d05020"/><rect x="578.00" y="140.5" width="1.00" height="346.0" fill="#d05018"/><rect x="579.00" y="140.5" width="1.00" height="346.0" fill="#c84010"/><rect x="580.00" y="140.5" width="1.00" height="346.0" fill="#d05030"/><rect x="581.00" y="140.5" width="1.00" height="346.0" fill="#d04030"/><rect x="582.00" y="140.5" width="1.00" height="346.0" fill="#d04038"/><rect x="583.00" y="140.5" width="1.00" height="346.0" fill="#d05040"/><rect x="584.00" y="140.5" width="1.00" height="346.0" fill="#f08050"/><rect x="585.00" y="140.5" width="1.00" height="346.0" fill="#e07048"/><rect x="586.00" y="140.5" width="1.00" height="346.0" fill="#d05040"/><rect x="587.00" y="140.5" width="1.00" height="346.0" fill="#d06060"/><rect x="588.00" y="140.5" width="1.00" height="346.0" fill="#e07070"/><rect x="589.00" y="140.5" width="1.00" height="346.0" fill="#c05050"/><rect x="590.00" y="140.5" width="1.00" height="346.0" fill="#d06058"/><rect x="591.00" y="140.5" width="1.00" height="346.0" fill="#e07068"/><rect x="592.00" y="140.5" width="1.00" height="346.0" fill="#e06060"/><rect x="593.00" y="140.5" width="1.00" height="346.0" fill="#d85058"/><rect x="594.00" y="140.5" width="1.00" height="346.0" fill="#d85060"/><rect x="595.00" y="140.5" width="1.00" height="346.0" fill="#e05070"/><rect x="596.00" y="140.5" width="1.00" height="346.0" fill="#e05870"/><rect x="597.00" y="140.5" width="1.00" height="346.0" fill="#d06050"/><rect x="598.00" y="140.5" width="1.00" height="346.0" fill="#c86040"/><rect x="599.00" y="140.5" width="1.00" height="346.0" fill="#c85048"/><rect x="600.00" y="140.5" width="1.00" height="346.0" fill="#d06060"/><rect x="601.00" y="140.5" width="1.00" height="346.0" fill="#e08070"/><rect x="602.00" y="140.5" width="1.00" height="346.0" fill="#e88068"/><rect x="603.00" y="140.5" width="1.00" height="346.0" fill="#d06050"/><rect x="604.00" y="140.5" width="1.00" height="346.0" fill="#c04040"/><rect x="605.00" y="140.5" width="1.00" height="346.0" fill="#c84040"/><rect x="606.00" y="140.5" width="1.00" height="346.0" fill="#c03818"/><rect x="607.00" y="140.5" width="1.00" height="346.0" fill="#d04820"/><rect x="608.00" y="140.5" width="1.00" height="346.0" fill="#e05838"/><rect x="609.00" y="140.5" width="1.00" height="346.0" fill="#d05040"/><rect x="610.00" y="140.5" width="1.00" height="346.0" fill="#c84040"/><rect x="611.00" y="140.5" width="1.00" height="346.0" fill="#d05050"/><rect x="612.00" y="140.5" width="1.00" height="346.0" fill="#d05040"/><rect x="613.00" y="140.5" width="1.00" height="346.0" fill="#d05028"/><rect x="614.00" y="140.5" width="1.00" height="346.0" fill="#d86020"/><rect x="615.00" y="140.5" width="1.00" height="346.0" fill="#e8a060"/><rect x="616.00" y="140.5" width="1.00" height="346.0" fill="#fff0e0"/><rect x="56" y="139" width="576" height="1" fill="#000" fill-opacity="0.07"/><rect x="56" y="140" width="576" height="1" fill="#000" fill-opacity="0.76"/><rect x="58" y="141" width="572" height="1" fill="#000" fill-opacity="0.1"/><rect x="58" y="485" width="572" height="1" fill="#000" fill-opacity="0.07"/><rect x="56" y="486" width="576" height="1" fill="#000" fill-opacity="0.77"/><rect x="56" y="487" width="576" height="1" fill="#000" fill-opacity="0.28"/><rect x="56" y="141" width="1" height="345" fill="#000" fill-opacity="0.8"/><rect x="57" y="141" width="1" height="345" fill="#000" fill-opacity="0.55"/><rect x="630" y="141" width="1" height="345" fill="#000" fill-opacity="0.67"/><rect x="631" y="141" width="1" height="345" fill="#000" fill-opacity="0.72"/><line x1="57.0" y1="998.5" x2="62.5" y2="998.5" stroke="#555555" stroke-width="1"/><line x1="631.0" y1="998.5" x2="625.5" y2="998.5" stroke="#555555" stroke-width="1"/><line x1="57.0" y1="929.5" x2="62.5" y2="929.5" stroke="#555555" stroke-width="1"/><line x1="631.0" y1="929.5" x2="625.5" y2="929.5" stroke="#555555" stroke-width="1"/><line x1="57.0" y1="860.5" x2="62.5" y2="860.5" stroke="#555555" stroke-width="1"/><line x1="631.0" y1="860.5" x2="625.5" y2="860.5" stroke="#555555" stroke-width="1"/><line x1="57.0" y1="790.5" x2="62.5" y2="790.5" stroke="#555555" stroke-width="1"/><line x1="631.0" y1="790.5" x2="625.5" y2="790.5" stroke="#555555" stroke-width="1"/><line x1="57.0" y1="721.5" x2="62.5" y2="721.5" stroke="#555555" stroke-width="1"/><line x1="631.0" y1="721.5" x2="625.5" y2="721.5" stroke="#555555" stroke-width="1"/><line x1="57.0" y1="652.5" x2="62.5" y2="652.5" stroke="#555555" stroke-width="1"/><line x1="631.0" y1="652.5" x2="625.5" y2="652.5" stroke="#555555" stroke-width="1"/><line x1="56.5" y1="998.5" x2="56.5" y2="993.0" stroke="#75757d" stroke-width="1"/><line x1="56.5" y1="652.5" x2="56.5" y2="658.0" stroke="#75757d" stroke-width="1"/><line x1="138.5" y1="998.5" x2="138.5" y2="993.0" stroke="#75757d" stroke-width="1"/><line x1="138.5" y1="652.5" x2="138.5" y2="658.0" stroke="#75757d" stroke-width="1"/><line x1="220.5" y1="998.5" x2="220.5" y2="993.0" stroke="#75757d" stroke-width="1"/><line x1="220.5" y1="652.5" x2="220.5" y2="658.0" stroke="#75757d" stroke-width="1"/><line x1="302.5" y1="998.5" x2="302.5" y2="993.0" stroke="#75757d" stroke-width="1"/><line x1="302.5" y1="652.5" x2="302.5" y2="658.0" stroke="#75757d" stroke-width="1"/><line x1="384.5" y1="998.5" x2="384.5" y2="993.0" stroke="#75757d" stroke-width="1"/><line x1="384.5" y1="652.5" x2="384.5" y2="658.0" stroke="#75757d" stroke-width="1"/><line x1="466.5" y1="998.5" x2="466.5" y2="993.0" stroke="#75757d" stroke-width="1"/><line x1="466.5" y1="652.5" x2="466.5" y2="658.0" stroke="#75757d" stroke-width="1"/><line x1="548.5" y1="998.5" x2="548.5" y2="993.0" stroke="#75757d" stroke-width="1"/><line x1="548.5" y1="652.5" x2="548.5" y2="658.0" stroke="#75757d" stroke-width="1"/><line x1="630.5" y1="998.5" x2="630.5" y2="993.0" stroke="#75757d" stroke-width="1"/><line x1="630.5" y1="652.5" x2="630.5" y2="658.0" stroke="#75757d" stroke-width="1"/><rect x="139.00" y="652.5" width="1.00" height="346.0" fill="#80a880"/><rect x="140.00" y="652.5" width="1.00" height="346.0" fill="#70d870"/><rect x="141.00" y="652.5" width="1.00" height="346.0" fill="#70e070"/><rect x="142.00" y="652.5" width="1.00" height="346.0" fill="#6090b8"/><rect x="143.00" y="652.5" width="1.00" height="346.0" fill="#6090c0"/><rect x="144.00" y="652.5" width="1.00" height="346.0" fill="#5080b8"/><rect x="145.00" y="652.5" width="1.00" height="346.0" fill="#7090c0"/><rect x="146.00" y="652.5" width="1.00" height="346.0" fill="#b090c0"/><rect x="147.00" y="652.5" width="1.00" height="346.0" fill="#b090b8"/><rect x="148.00" y="652.5" width="1.00" height="346.0" fill="#502020"/><rect x="149.00" y="652.5" width="1.00" height="346.0" fill="#e08080"/><rect x="150.00" y="652.5" width="1.00" height="346.0" fill="#d05068"/><rect x="151.00" y="652.5" width="1.00" height="346.0" fill="#c04058"/><rect x="152.00" y="652.5" width="1.00" height="346.0" fill="#902848"/><rect x="153.00" y="652.5" width="1.00" height="346.0" fill="#a06060"/><rect x="154.00" y="652.5" width="1.00" height="346.0" fill="#a06040"/><rect x="155.00" y="652.5" width="1.00" height="346.0" fill="#909040"/><rect x="156.00" y="652.5" width="1.00" height="346.0" fill="#90a850"/><rect x="157.00" y="652.5" width="1.00" height="346.0" fill="#90a050"/><rect x="158.00" y="652.5" width="1.00" height="346.0" fill="#c0b890"/><rect x="159.00" y="652.5" width="1.00" height="346.0" fill="#705060"/><rect x="160.00" y="652.5" width="1.00" height="346.0" fill="#a08090"/><rect x="161.00" y="652.5" width="1.00" height="346.0" fill="#c0a0b0"/><rect x="162.00" y="652.5" width="1.00" height="346.0" fill="#b090a0"/><rect x="163.00" y="652.5" width="1.00" height="346.0" fill="#a07888"/><rect x="164.00" y="652.5" width="1.00" height="346.0" fill="#804858"/><rect x="165.00" y="652.5" width="1.00" height="346.0" fill="#905868"/><rect x="166.00" y="652.5" width="1.00" height="346.0" fill="#607080"/><rect x="167.00" y="652.5" width="1.00" height="346.0" fill="#c0d8f0"/><rect x="168.00" y="652.5" width="1.00" height="346.0" fill="#a090c0"/><rect x="169.00" y="652.5" width="1.00" height="346.0" fill="#9070b0"/><rect x="170.00" y="652.5" width="1.00" height="346.0" fill="#8050a8"/><rect x="171.00" y="652.5" width="1.00" height="346.0" fill="#7040a0"/><rect x="172.00" y="652.5" width="1.00" height="346.0" fill="#7848a8"/><rect x="173.00" y="652.5" width="1.00" height="346.0" fill="#9070c0"/><rect x="174.00" y="652.5" width="1.00" height="346.0" fill="#c0a8e8"/><rect x="175.00" y="652.5" width="1.00" height="346.0" fill="#b0a0d0"/><rect x="176.00" y="652.5" width="1.00" height="346.0" fill="#60b060"/><rect x="177.00" y="652.5" width="1.00" height="346.0" fill="#70b870"/><rect x="178.00" y="652.5" width="1.00" height="346.0" fill="#90a070"/><rect x="179.00" y="652.5" width="1.00" height="346.0" fill="#a08070"/><rect x="180.00" y="652.5" width="1.00" height="346.0" fill="#a08898"/><rect x="181.00" y="652.5" width="1.00" height="346.0" fill="#c0a0b8"/><rect x="182.00" y="652.5" width="1.00" height="346.0" fill="#408048"/><rect x="183.00" y="652.5" width="1.00" height="346.0" fill="#80b088"/><rect x="184.00" y="652.5" width="1.00" height="346.0" fill="#90a098"/><rect x="185.00" y="652.5" width="1.00" height="346.0" fill="#b090c0"/><rect x="186.00" y="652.5" width="1.00" height="346.0" fill="#e090e0"/><rect x="187.00" y="652.5" width="1.00" height="346.0" fill="#a050a0"/><rect x="188.00" y="652.5" width="1.00" height="346.0" fill="#a050a8"/><rect x="189.00" y="652.5" width="1.00" height="346.0" fill="#506850"/><rect x="190.00" y="652.5" width="1.00" height="346.0" fill="#50c860"/><rect x="191.00" y="652.5" width="1.00" height="346.0" fill="#40d060"/><rect x="192.00" y="652.5" width="1.00" height="346.0" fill="#60c870"/><rect x="193.00" y="652.5" width="1.00" height="346.0" fill="#a0e0b0"/><rect x="194.00" y="652.5" width="1.00" height="346.0" fill="#c0a0d0"/><rect x="195.00" y="652.5" width="1.00" height="346.0" fill="#8050a0"/><rect x="196.00" y="652.5" width="1.00" height="346.0" fill="#706878"/><rect x="197.00" y="652.5" width="1.00" height="346.0" fill="#607070"/><rect x="198.00" y="652.5" width="1.00" height="346.0" fill="#8090c0"/><rect x="199.00" y="652.5" width="1.00" height="346.0" fill="#90a0d0"/><rect x="200.00" y="652.5" width="1.00" height="346.0" fill="#a0b0c0"/><rect x="201.00" y="652.5" width="1.00" height="346.0" fill="#a0a0a8"/><rect x="202.00" y="652.5" width="1.00" height="346.0" fill="#c090b0"/><rect x="203.00" y="652.5" width="1.00" height="346.0" fill="#b07090"/><rect x="204.00" y="652.5" width="1.00" height="346.0" fill="#302828"/><rect x="205.00" y="652.5" width="1.00" height="346.0" fill="#a0b0b8"/><rect x="206.00" y="652.5" width="1.00" height="346.0" fill="#80a0c0"/><rect x="207.00" y="652.5" width="1.00" height="346.0" fill="#6090b0"/><rect x="208.00" y="652.5" width="1.00" height="346.0" fill="#306070"/><rect x="209.00" y="652.5" width="1.00" height="346.0" fill="#509890"/><rect x="210.00" y="652.5" width="1.00" height="346.0" fill="#50a878"/><rect x="211.00" y="652.5" width="1.00" height="346.0" fill="#70c098"/><rect x="212.00" y="652.5" width="1.00" height="346.0" fill="#408870"/><rect x="213.00" y="652.5" width="1.00" height="346.0" fill="#708890"/><rect x="214.00" y="652.5" width="1.00" height="346.0" fill="#b0a0b0"/><rect x="215.00" y="652.5" width="1.00" height="346.0" fill="#c04858"/><rect x="216.00" y="652.5" width="1.00" height="346.0" fill="#b03040"/><rect x="217.00" y="652.5" width="1.00" height="346.0" fill="#c04050"/><rect x="218.00" y="652.5" width="1.00" height="346.0" fill="#d06070"/><rect x="219.00" y="652.5" width="1.00" height="346.0" fill="#a06060"/><rect x="220.00" y="652.5" width="1.00" height="346.0" fill="#70c060"/><rect x="221.00" y="652.5" width="1.00" height="346.0" fill="#90d878"/><rect x="222.00" y="652.5" width="1.00" height="346.0" fill="#d0d878"/><rect x="223.00" y="652.5" width="1.00" height="346.0" fill="#706840"/><rect x="224.00" y="652.5" width="1.00" height="346.0" fill="#9080d0"/><rect x="225.00" y="652.5" width="1.00" height="346.0" fill="#9080e0"/><rect x="226.00" y="652.5" width="1.00" height="346.0" fill="#7048c0"/><rect x="227.00" y="652.5" width="1.00" height="346.0" fill="#8060c8"/><rect x="228.00" y="652.5" width="1.00" height="346.0" fill="#8870b0"/><rect x="229.00" y="652.5" width="1.00" height="346.0" fill="#706870"/><rect x="230.00" y="652.5" width="1.00" height="346.0" fill="#c06840"/><rect x="231.00" y="652.5" width="1.00" height="346.0" fill="#d07850"/><rect x="232.00" y="652.5" width="1.00" height="346.0" fill="#e09880"/><rect x="233.00" y="652.5" width="1.00" height="346.0" fill="#c09070"/><rect x="234.00" y="652.5" width="1.00" height="346.0" fill="#a08060"/><rect x="235.00" y="652.5" width="1.00" height="346.0" fill="#607048"/><rect x="236.00" y="652.5" width="1.00" height="346.0" fill="#60d080"/><rect x="237.00" y="652.5" width="1.00" height="346.0" fill="#60d890"/><rect x="238.00" y="652.5" width="1.00" height="346.0" fill="#50b880"/><rect x="239.00" y="652.5" width="1.00" height="346.0" fill="#205838"/><rect x="240.00" y="652.5" width="1.00" height="346.0" fill="#a08058"/><rect x="241.00" y="652.5" width="1.00" height="346.0" fill="#e0c090"/><rect x="242.00" y="652.5" width="1.00" height="346.0" fill="#c08080"/><rect x="243.00" y="652.5" width="1.00" height="346.0" fill="#b070a0"/><rect x="244.00" y="652.5" width="1.00" height="346.0" fill="#a06090"/><rect x="245.00" y="652.5" width="1.00" height="346.0" fill="#907060"/><rect x="246.00" y="652.5" width="1.00" height="346.0" fill="#a08068"/><rect x="247.00" y="652.5" width="1.00" height="346.0" fill="#706870"/><rect x="248.00" y="652.5" width="1.00" height="346.0" fill="#b080b0"/><rect x="249.00" y="652.5" width="1.00" height="346.0" fill="#a060a0"/><rect x="250.00" y="652.5" width="1.00" height="346.0" fill="#405090"/><rect x="251.00" y="652.5" width="1.00" height="346.0" fill="#3060a0"/><rect x="252.00" y="652.5" width="1.00" height="346.0" fill="#b0c0c0"/><rect x="253.00" y="652.5" width="1.00" height="346.0" fill="#c0d0b0"/><rect x="254.00" y="652.5" width="1.00" height="346.0" fill="#60d070"/><rect x="255.00" y="652.5" width="1.00" height="346.0" fill="#90c090"/><rect x="256.00" y="652.5" width="1.00" height="346.0" fill="#90a080"/><rect x="257.00" y="652.5" width="1.00" height="346.0" fill="#a09070"/><rect x="258.00" y="652.5" width="1.00" height="346.0" fill="#705840"/><rect x="259.00" y="652.5" width="1.00" height="346.0" fill="#80a060"/><rect x="260.00" y="652.5" width="1.00" height="346.0" fill="#90e070"/><rect x="261.00" y="652.5" width="1.00" height="346.0" fill="#40a040"/><rect x="262.00" y="652.5" width="1.00" height="346.0" fill="#5090a0"/><rect x="263.00" y="652.5" width="1.00" height="346.0" fill="#6088a0"/><rect x="264.00" y="652.5" width="1.00" height="346.0" fill="#a05840"/><rect x="265.00" y="652.5" width="1.00" height="346.0" fill="#904830"/><rect x="266.00" y="652.5" width="1.00" height="346.0" fill="#504028"/><rect x="267.00" y="652.5" width="1.00" height="346.0" fill="#b0c0a0"/><rect x="268.00" y="652.5" width="1.00" height="346.0" fill="#d0d090"/><rect x="269.00" y="652.5" width="1.00" height="346.0" fill="#c8c890"/><rect x="270.00" y="652.5" width="1.00" height="346.0" fill="#b0b0a0"/><rect x="271.00" y="652.5" width="1.00" height="346.0" fill="#7060a8"/><rect x="272.00" y="652.5" width="1.00" height="346.0" fill="#6050a8"/><rect x="273.00" y="652.5" width="1.00" height="346.0" fill="#8068c0"/><rect x="274.00" y="652.5" width="1.00" height="346.0" fill="#9078c0"/><rect x="275.00" y="652.5" width="1.00" height="346.0" fill="#8070b0"/><rect x="276.00" y="652.5" width="1.00" height="346.0" fill="#705888"/><rect x="277.00" y="652.5" width="1.00" height="346.0" fill="#b04898"/><rect x="278.00" y="652.5" width="1.00" height="346.0" fill="#c050a0"/><rect x="279.00" y="652.5" width="1.00" height="346.0" fill="#b06080"/><rect x="280.00" y="652.5" width="1.00" height="346.0" fill="#d07070"/><rect x="281.00" y="652.5" width="1.00" height="346.0" fill="#f0b090"/><rect x="282.00" y="652.5" width="1.00" height="346.0" fill="#d0b0a8"/><rect x="283.00" y="652.5" width="1.00" height="346.0" fill="#c0a8a0"/><rect x="284.00" y="652.5" width="1.00" height="346.0" fill="#707068"/><rect x="285.00" y="652.5" width="1.00" height="346.0" fill="#a08858"/><rect x="286.00" y="652.5" width="1.00" height="346.0" fill="#a09060"/><rect x="287.00" y="652.5" width="1.00" height="346.0" fill="#e0d090"/><rect x="288.00" y="652.5" width="1.00" height="346.0" fill="#b0a890"/><rect x="289.00" y="652.5" width="1.00" height="346.0" fill="#404048"/><rect x="290.00" y="652.5" width="1.00" height="346.0" fill="#a08078"/><rect x="291.00" y="652.5" width="1.00" height="346.0" fill="#c0a890"/><rect x="292.00" y="652.5" width="1.00" height="346.0" fill="#40c860"/><rect x="293.00" y="652.5" width="1.00" height="346.0" fill="#40d070"/><rect x="294.00" y="652.5" width="1.00" height="346.0" fill="#50b880"/><rect x="295.00" y="652.5" width="1.00" height="346.0" fill="#4090a0"/><rect x="296.00" y="652.5" width="1.00" height="346.0" fill="#4098a8"/><rect x="297.00" y="652.5" width="1.00" height="346.0" fill="#5090a0"/><rect x="298.00" y="652.5" width="1.00" height="346.0" fill="#806868"/><rect x="299.00" y="652.5" width="1.00" height="346.0" fill="#c08880"/><rect x="300.00" y="652.5" width="1.00" height="346.0" fill="#b07888"/><rect x="301.00" y="652.5" width="1.00" height="346.0" fill="#9070a0"/><rect x="302.00" y="652.5" width="1.00" height="346.0" fill="#8090d0"/><rect x="303.00" y="652.5" width="1.00" height="346.0" fill="#8088d0"/><rect x="304.00" y="652.5" width="1.00" height="346.0" fill="#605080"/><rect x="305.00" y="652.5" width="1.00" height="346.0" fill="#706888"/><rect x="306.00" y="652.5" width="1.00" height="346.0" fill="#90c890"/><rect x="307.00" y="652.5" width="1.00" height="346.0" fill="#80b080"/><rect x="308.00" y="652.5" width="1.00" height="346.0" fill="#a08898"/><rect x="309.00" y="652.5" width="1.00" height="346.0" fill="#908090"/><rect x="310.00" y="652.5" width="1.00" height="346.0" fill="#509888"/><rect x="311.00" y="652.5" width="1.00" height="346.0" fill="#409888"/><rect x="312.00" y="652.5" width="1.00" height="346.0" fill="#a07878"/><rect x="313.00" y="652.5" width="1.00" height="346.0" fill="#a08080"/><rect x="314.00" y="652.5" width="1.00" height="346.0" fill="#60b0a0"/><rect x="315.00" y="652.5" width="1.00" height="346.0" fill="#60c0a8"/><rect x="316.00" y="652.5" width="1.00" height="346.0" fill="#80c8c0"/><rect x="317.00" y="652.5" width="1.00" height="346.0" fill="#c0d8e8"/><rect x="318.00" y="652.5" width="1.00" height="346.0" fill="#6040a0"/><rect x="319.00" y="652.5" width="1.00" height="346.0" fill="#6030a0"/><rect x="320.00" y="652.5" width="1.00" height="346.0" fill="#5040a0"/><rect x="321.00" y="652.5" width="1.00" height="346.0" fill="#6050b0"/><rect x="322.00" y="652.5" width="1.00" height="346.0" fill="#805888"/><rect x="323.00" y="652.5" width="1.00" height="346.0" fill="#704878"/><rect x="324.00" y="652.5" width="1.00" height="346.0" fill="#805890"/><rect x="325.00" y="652.5" width="1.00" height="346.0" fill="#907090"/><rect x="326.00" y="652.5" width="1.00" height="346.0" fill="#90c890"/><rect x="327.00" y="652.5" width="1.00" height="346.0" fill="#90d090"/><rect x="328.00" y="652.5" width="1.00" height="346.0" fill="#60a860"/><rect x="329.00" y="652.5" width="1.00" height="346.0" fill="#205020"/><rect x="330.00" y="652.5" width="1.00" height="346.0" fill="#708880"/><rect x="331.00" y="652.5" width="1.00" height="346.0" fill="#60a0a0"/><rect x="332.00" y="652.5" width="1.00" height="346.0" fill="#60a0a8"/><rect x="333.00" y="652.5" width="1.00" height="346.0" fill="#709898"/><rect x="334.00" y="652.5" width="1.00" height="346.0" fill="#d08098"/><rect x="335.00" y="652.5" width="1.00" height="346.0" fill="#c088a0"/><rect x="336.00" y="652.5" width="1.00" height="346.0" fill="#a07090"/><rect x="337.00" y="652.5" width="1.00" height="346.0" fill="#705070"/><rect x="338.00" y="652.5" width="1.00" height="346.0" fill="#c09098"/><rect x="339.00" y="652.5" width="1.00" height="346.0" fill="#d0a0a8"/><rect x="340.00" y="652.5" width="1.00" height="346.0" fill="#b08898"/><rect x="341.00" y="652.5" width="1.00" height="346.0" fill="#705090"/><rect x="342.00" y="652.5" width="1.00" height="346.0" fill="#5030a0"/><rect x="343.00" y="652.5" width="1.00" height="346.0" fill="#502898"/><rect x="344.00" y="652.5" width="1.00" height="346.0" fill="#80d070"/><rect x="345.00" y="652.5" width="1.00" height="346.0" fill="#80d868"/><rect x="346.00" y="652.5" width="1.00" height="346.0" fill="#6098a0"/><rect x="347.00" y="652.5" width="1.00" height="346.0" fill="#8090c0"/><rect x="348.00" y="652.5" width="1.00" height="346.0" fill="#8070a8"/><rect x="349.00" y="652.5" width="1.00" height="346.0" fill="#9080a0"/><rect x="350.00" y="652.5" width="1.00" height="346.0" fill="#c0d8a0"/><rect x="351.00" y="652.5" width="1.00" height="346.0" fill="#d8d888"/><rect x="352.00" y="652.5" width="1.00" height="346.0" fill="#e0c870"/><rect x="353.00" y="652.5" width="1.00" height="346.0" fill="#a07048"/><rect x="354.00" y="652.5" width="1.00" height="346.0" fill="#a06880"/><rect x="355.00" y="652.5" width="1.00" height="346.0" fill="#c0a0c8"/><rect x="356.00" y="652.5" width="1.00" height="346.0" fill="#c0b8e0"/><rect x="357.00" y="652.5" width="1.00" height="346.0" fill="#6050b0"/><rect x="358.00" y="652.5" width="1.00" height="346.0" fill="#6058b8"/><rect x="359.00" y="652.5" width="1.00" height="346.0" fill="#7068c0"/><rect x="360.00" y="652.5" width="1.00" height="346.0" fill="#304058"/><rect x="361.00" y="652.5" width="1.00" height="346.0" fill="#90a090"/><rect x="362.00" y="652.5" width="1.00" height="346.0" fill="#a06050"/><rect x="363.00" y="652.5" width="1.00" height="346.0" fill="#a86858"/><rect x="364.00" y="652.5" width="1.00" height="346.0" fill="#a09070"/><rect x="365.00" y="652.5" width="1.00" height="346.0" fill="#906860"/><rect x="366.00" y="652.5" width="1.00" height="346.0" fill="#c06070"/><rect x="367.00" y="652.5" width="1.00" height="346.0" fill="#c06878"/><rect x="368.00" y="652.5" width="1.00" height="346.0" fill="#b06070"/><rect x="369.00" y="652.5" width="1.00" height="346.0" fill="#a08080"/><rect x="370.00" y="652.5" width="1.00" height="346.0" fill="#c0a0a0"/><rect x="371.00" y="652.5" width="1.00" height="346.0" fill="#a07890"/><rect x="372.00" y="652.5" width="1.00" height="346.0" fill="#b8a0d0"/><rect x="373.00" y="652.5" width="1.00" height="346.0" fill="#8070a0"/><rect x="374.00" y="652.5" width="1.00" height="346.0" fill="#305848"/><rect x="375.00" y="652.5" width="1.00" height="346.0" fill="#709080"/><rect x="376.00" y="652.5" width="1.00" height="346.0" fill="#b090a8"/><rect x="377.00" y="652.5" width="1.00" height="346.0" fill="#b8a0b0"/><rect x="378.00" y="652.5" width="1.00" height="346.0" fill="#a08098"/><rect x="379.00" y="652.5" width="1.00" height="346.0" fill="#c0a0c0"/><rect x="380.00" y="652.5" width="1.00" height="346.0" fill="#a0f0a0"/><rect x="381.00" y="652.5" width="1.00" height="346.0" fill="#70c080"/><rect x="382.00" y="652.5" width="1.00" height="346.0" fill="#508078"/><rect x="383.00" y="652.5" width="1.00" height="346.0" fill="#60a0a0"/><rect x="384.00" y="652.5" width="1.00" height="346.0" fill="#a08058"/><rect x="385.00" y="652.5" width="1.00" height="346.0" fill="#a09070"/><rect x="386.00" y="652.5" width="1.00" height="346.0" fill="#a0d0c8"/><rect x="387.00" y="652.5" width="1.00" height="346.0" fill="#a0d8d0"/><rect x="388.00" y="652.5" width="1.00" height="346.0" fill="#808878"/><rect x="389.00" y="652.5" width="1.00" height="346.0" fill="#a050a8"/><rect x="390.00" y="652.5" width="1.00" height="346.0" fill="#b050b8"/><rect x="391.00" y="652.5" width="1.00" height="346.0" fill="#802890"/><rect x="392.00" y="652.5" width="1.00" height="346.0" fill="#9498d8"/><rect x="393.00" y="652.5" width="1.00" height="346.0" fill="#8888d0"/><rect x="394.00" y="652.5" width="1.00" height="346.0" fill="#9070d8"/><rect x="395.00" y="652.5" width="1.00" height="346.0" fill="#a070e0"/><rect x="396.00" y="652.5" width="1.00" height="346.0" fill="#9c74d8"/><rect x="397.00" y="652.5" width="1.00" height="346.0" fill="#7860b8"/><rect x="398.00" y="652.5" width="1.00" height="346.0" fill="#c8c8e0"/><rect x="399.00" y="652.5" width="1.00" height="346.0" fill="#b0b8d0"/><rect x="400.00" y="652.5" width="1.00" height="346.0" fill="#4050a8"/><rect x="401.00" y="652.5" width="1.00" height="346.0" fill="#3840a0"/><rect x="402.00" y="652.5" width="1.00" height="346.0" fill="#6060a0"/><rect x="403.00" y="652.5" width="1.00" height="346.0" fill="#a0a0b0"/><rect x="404.00" y="652.5" width="1.00" height="346.0" fill="#90b080"/><rect x="405.00" y="652.5" width="1.00" height="346.0" fill="#708060"/><rect x="406.00" y="652.5" width="1.00" height="346.0" fill="#804848"/><rect x="407.00" y="652.5" width="1.00" height="346.0" fill="#904060"/><rect x="408.00" y="652.5" width="1.00" height="346.0" fill="#a04870"/><rect x="409.00" y="652.5" width="1.00" height="346.0" fill="#c060b0"/><rect x="410.00" y="652.5" width="1.00" height="346.0" fill="#a050a8"/><rect x="411.00" y="652.5" width="1.00" height="346.0" fill="#b864b0"/><rect x="412.00" y="652.5" width="1.00" height="346.0" fill="#e07c98"/><rect x="413.00" y="652.5" width="1.00" height="346.0" fill="#f0a0a0"/><rect x="414.00" y="652.5" width="1.00" height="346.0" fill="#ecb890"/><rect x="415.00" y="652.5" width="1.00" height="346.0" fill="#e0d08c"/><rect x="416.00" y="652.5" width="1.00" height="346.0" fill="#d0d490"/><rect x="417.00" y="652.5" width="1.00" height="346.0" fill="#b4c488"/><rect x="418.00" y="652.5" width="1.00" height="346.0" fill="#706050"/><rect x="419.00" y="652.5" width="1.00" height="346.0" fill="#802880"/><rect x="420.00" y="652.5" width="1.00" height="346.0" fill="#701878"/><rect x="421.00" y="652.5" width="1.00" height="346.0" fill="#903898"/><rect x="422.00" y="652.5" width="1.00" height="346.0" fill="#a04080"/><rect x="423.00" y="652.5" width="1.00" height="346.0" fill="#c06868"/><rect x="424.00" y="652.5" width="1.00" height="346.0" fill="#e09070"/><rect x="425.00" y="652.5" width="1.00" height="346.0" fill="#c08060"/><rect x="426.00" y="652.5" width="1.00" height="346.0" fill="#c0e0e0"/><rect x="427.00" y="652.5" width="1.00" height="346.0" fill="#d0f0f0"/><rect x="428.00" y="652.5" width="1.00" height="346.0" fill="#40a0a8"/><rect x="429.00" y="652.5" width="1.00" height="346.0" fill="#105868"/><rect x="430.00" y="652.5" width="1.00" height="346.0" fill="#8070b0"/><rect x="431.00" y="652.5" width="1.00" height="346.0" fill="#a080c0"/><rect x="432.00" y="652.5" width="1.00" height="346.0" fill="#a080b0"/><rect x="433.00" y="652.5" width="1.00" height="346.0" fill="#707068"/><rect x="434.00" y="652.5" width="1.00" height="346.0" fill="#a0b070"/><rect x="435.00" y="652.5" width="1.00" height="346.0" fill="#d0e890"/><rect x="436.00" y="652.5" width="1.00" height="346.0" fill="#70b070"/><rect x="437.00" y="652.5" width="1.00" height="346.0" fill="#60d0a0"/><rect x="438.00" y="652.5" width="1.00" height="346.0" fill="#70f0b0"/><rect x="439.00" y="652.5" width="1.00" height="346.0" fill="#60e0a0"/><rect x="440.00" y="652.5" width="1.00" height="346.0" fill="#80c890"/><rect x="441.00" y="652.5" width="1.00" height="346.0" fill="#c0a090"/><rect x="442.00" y="652.5" width="1.00" height="346.0" fill="#c07080"/><rect x="443.00" y="652.5" width="1.00" height="346.0" fill="#904848"/><rect x="444.00" y="652.5" width="1.00" height="346.0" fill="#60b070"/><rect x="445.00" y="652.5" width="1.00" height="346.0" fill="#70c070"/><rect x="446.00" y="652.5" width="1.00" height="346.0" fill="#6090b0"/><rect x="447.00" y="652.5" width="1.00" height="346.0" fill="#80a0c8"/><rect x="448.00" y="652.5" width="1.00" height="346.0" fill="#90a890"/><rect x="449.00" y="652.5" width="1.00" height="346.0" fill="#80a080"/><rect x="450.00" y="652.5" width="1.00" height="346.0" fill="#a0b8a0"/><rect x="451.00" y="652.5" width="1.00" height="346.0" fill="#b0c8a0"/><rect x="452.00" y="652.5" width="1.00" height="346.0" fill="#a0b050"/><rect x="453.00" y="652.5" width="1.00" height="346.0" fill="#90a030"/><rect x="454.00" y="652.5" width="1.00" height="346.0" fill="#70a050"/><rect x="455.00" y="652.5" width="1.00" height="346.0" fill="#50a060"/><rect x="456.00" y="652.5" width="1.00" height="346.0" fill="#50a070"/><rect x="457.00" y="652.5" width="1.00" height="346.0" fill="#70c080"/><rect x="458.00" y="652.5" width="1.00" height="346.0" fill="#80a060"/><rect x="459.00" y="652.5" width="1.00" height="346.0" fill="#70a070"/><rect x="460.00" y="652.5" width="1.00" height="346.0" fill="#40a090"/><rect x="461.00" y="652.5" width="1.00" height="346.0" fill="#60a0a0"/><rect x="462.00" y="652.5" width="1.00" height="346.0" fill="#7070a0"/><rect x="463.00" y="652.5" width="1.00" height="346.0" fill="#707898"/><rect x="464.00" y="652.5" width="1.00" height="346.0" fill="#60a0b0"/><rect x="465.00" y="652.5" width="1.00" height="346.0" fill="#80b0c0"/><rect x="466.00" y="652.5" width="1.00" height="346.0" fill="#80a0a8"/><rect x="467.00" y="652.5" width="1.00" height="346.0" fill="#909098"/><rect x="468.00" y="652.5" width="1.00" height="346.0" fill="#888890"/><rect x="469.00" y="652.5" width="1.00" height="346.0" fill="#909898"/><rect x="470.00" y="652.5" width="1.00" height="346.0" fill="#a0c080"/><rect x="471.00" y="652.5" width="1.00" height="346.0" fill="#b0d090"/><rect x="472.00" y="652.5" width="1.00" height="346.0" fill="#e0e8a0"/><rect x="473.00" y="652.5" width="1.00" height="346.0" fill="#807850"/><rect x="474.00" y="652.5" width="1.00" height="346.0" fill="#7090c0"/><rect x="475.00" y="652.5" width="1.00" height="346.0" fill="#70a0d8"/><rect x="476.00" y="652.5" width="1.00" height="346.0" fill="#80a8e0"/><rect x="477.00" y="652.5" width="1.00" height="346.0" fill="#80a8d8"/><rect x="478.00" y="652.5" width="1.00" height="346.0" fill="#90c0d0"/><rect x="479.00" y="652.5" width="1.00" height="346.0" fill="#a0a8c8"/><rect x="480.00" y="652.5" width="1.00" height="346.0" fill="#a080d0"/><rect x="481.00" y="652.5" width="1.00" height="346.0" fill="#702080"/><rect x="482.00" y="652.5" width="1.00" height="346.0" fill="#b04080"/><rect x="483.00" y="652.5" width="1.00" height="346.0" fill="#c06080"/><rect x="484.00" y="652.5" width="1.00" height="346.0" fill="#a0c0a0"/><rect x="485.00" y="652.5" width="1.00" height="346.0" fill="#90c070"/><rect x="486.00" y="652.5" width="1.00" height="346.0" fill="#a0c070"/><rect x="487.00" y="652.5" width="1.00" height="346.0" fill="#b0b860"/><rect x="488.00" y="652.5" width="1.00" height="346.0" fill="#d0c070"/><rect x="489.00" y="652.5" width="1.00" height="346.0" fill="#c0c890"/><rect x="490.00" y="652.5" width="1.00" height="346.0" fill="#90a8a0"/><rect x="491.00" y="652.5" width="1.00" height="346.0" fill="#7898a0"/><rect x="492.00" y="652.5" width="1.00" height="346.0" fill="#80a0a0"/><rect x="493.00" y="652.5" width="1.00" height="346.0" fill="#405040"/><rect x="494.00" y="652.5" width="1.00" height="346.0" fill="#a0b090"/><rect x="495.00" y="652.5" width="1.00" height="346.0" fill="#c0c0a0"/><rect x="496.00" y="652.5" width="1.00" height="346.0" fill="#a0a090"/><rect x="497.00" y="652.5" width="1.00" height="346.0" fill="#806070"/><rect x="498.00" y="652.5" width="1.00" height="346.0" fill="#905858"/><rect x="499.00" y="652.5" width="1.00" height="346.0" fill="#a07070"/><rect x="500.00" y="652.5" width="1.00" height="346.0" fill="#70c080"/><rect x="501.00" y="652.5" width="1.00" height="346.0" fill="#80c080"/><rect x="502.00" y="652.5" width="1.00" height="346.0" fill="#a08070"/><rect x="503.00" y="652.5" width="1.00" height="346.0" fill="#a08070"/><rect x="504.00" y="652.5" width="1.00" height="346.0" fill="#d0e0a0"/><rect x="505.00" y="652.5" width="1.00" height="346.0" fill="#a0c090"/><rect x="506.00" y="652.5" width="1.00" height="346.0" fill="#70a090"/><rect x="507.00" y="652.5" width="1.00" height="346.0" fill="#8090a0"/><rect x="508.00" y="652.5" width="1.00" height="346.0" fill="#402860"/><rect x="509.00" y="652.5" width="1.00" height="346.0" fill="#504068"/><rect x="510.00" y="652.5" width="1.00" height="346.0" fill="#e0c060"/><rect x="511.00" y="652.5" width="1.00" height="346.0" fill="#d8c040"/><rect x="512.00" y="652.5" width="1.00" height="346.0" fill="#d0d048"/><rect x="513.00" y="652.5" width="1.00" height="346.0" fill="#e0e060"/><rect x="514.00" y="652.5" width="1.00" height="346.0" fill="#c0c860"/><rect x="515.00" y="652.5" width="1.00" height="346.0" fill="#a0a070"/><rect x="516.00" y="652.5" width="1.00" height="346.0" fill="#e0b040"/><rect x="517.00" y="652.5" width="1.00" height="346.0" fill="#d0a030"/><rect x="518.00" y="652.5" width="1.00" height="346.0" fill="#a07840"/><rect x="519.00" y="652.5" width="1.00" height="346.0" fill="#8060a0"/><rect x="520.00" y="652.5" width="1.00" height="346.0" fill="#d0a0e0"/><rect x="521.00" y="652.5" width="1.00" height="346.0" fill="#f0a0f0"/><rect x="522.00" y="652.5" width="1.00" height="346.0" fill="#d06838"/><rect x="523.00" y="652.5" width="1.00" height="346.0" fill="#d07040"/><rect x="524.00" y="652.5" width="1.00" height="346.0" fill="#508040"/><rect x="525.00" y="652.5" width="1.00" height="346.0" fill="#508848"/><rect x="526.00" y="652.5" width="1.00" height="346.0" fill="#809080"/><rect x="527.00" y="652.5" width="1.00" height="346.0" fill="#b0b8b0"/><rect x="528.00" y="652.5" width="1.00" height="346.0" fill="#70b0a0"/><rect x="529.00" y="652.5" width="1.00" height="346.0" fill="#80c0b0"/><rect x="530.00" y="652.5" width="1.00" height="346.0" fill="#a0b090"/><rect x="531.00" y="652.5" width="1.00" height="346.0" fill="#b0b080"/><rect x="532.00" y="652.5" width="1.00" height="346.0" fill="#a0a070"/><rect x="533.00" y="652.5" width="1.00" height="346.0" fill="#9070a0"/><rect x="534.00" y="652.5" width="1.00" height="346.0" fill="#8050b0"/><rect x="535.00" y="652.5" width="1.00" height="346.0" fill="#9060b0"/><rect x="536.00" y="652.5" width="1.00" height="346.0" fill="#90b870"/><rect x="537.00" y="652.5" width="1.00" height="346.0" fill="#a0c070"/><rect x="538.00" y="652.5" width="1.00" height="346.0" fill="#605838"/><rect x="539.00" y="652.5" width="1.00" height="346.0" fill="#608060"/><rect x="540.00" y="652.5" width="1.00" height="346.0" fill="#40a080"/><rect x="541.00" y="652.5" width="1.00" height="346.0" fill="#50b090"/><rect x="542.00" y="652.5" width="1.00" height="346.0" fill="#40a080"/><rect x="543.00" y="652.5" width="1.00" height="346.0" fill="#a0c8c0"/><rect x="544.00" y="652.5" width="1.00" height="346.0" fill="#9080c0"/><rect x="545.00" y="652.5" width="1.00" height="346.0" fill="#9070b0"/><rect x="546.00" y="652.5" width="1.00" height="346.0" fill="#405070"/><rect x="547.00" y="652.5" width="1.00" height="346.0" fill="#a090b8"/><rect x="548.00" y="652.5" width="1.00" height="346.0" fill="#9050b8"/><rect x="549.00" y="652.5" width="1.00" height="346.0" fill="#a060c0"/><rect x="550.00" y="652.5" width="1.00" height="346.0" fill="#f0e0f0"/><rect x="56" y="651" width="576" height="1" fill="#000" fill-opacity="0.07"/><rect x="56" y="652" width="576" height="1" fill="#000" fill-opacity="0.76"/><rect x="58" y="653" width="572" height="1" fill="#000" fill-opacity="0.1"/><rect x="58" y="997" width="572" height="1" fill="#000" fill-opacity="0.07"/><rect x="56" y="998" width="576" height="1" fill="#000" fill-opacity="0.77"/><rect x="56" y="999" width="576" height="1" fill="#000" fill-opacity="0.28"/><rect x="56" y="653" width="1" height="345" fill="#000" fill-opacity="0.8"/><rect x="57" y="653" width="1" height="345" fill="#000" fill-opacity="0.55"/><rect x="630" y="653" width="1" height="345" fill="#000" fill-opacity="0.67"/><rect x="631" y="653" width="1" height="345" fill="#000" fill-opacity="0.72"/></svg>
<div class="t" style="left:48.8px;top:479.9px;transform:translateX(-100%)">0</div><div class="t" style="left:48.8px;top:410.7px;transform:translateX(-100%)">0.2</div><div class="t" style="left:48.8px;top:341.5px;transform:translateX(-100%)">0.4</div><div class="t" style="left:48.8px;top:272.3px;transform:translateX(-100%)">0.6</div><div class="t" style="left:48.8px;top:203.1px;transform:translateX(-100%)">0.8</div><div class="t" style="left:48.8px;top:133.9px;transform:translateX(-100%)"><span class="o"><svg viewBox="0 -1409 1139 1409"><path transform="translate(190,0) scale(1,-1)" d="M696 0L515 0L515 1123C470 1080 414 1040 347 1002C280 964 220 936 167 918L167 1090C262 1135 346 1190 418 1255C490 1320 541 1384 571 1409L696 1409Z"/></svg></span></div><div class="t" style="left:56.5px;top:492.7px;transform:translateX(-50%)">-<span class="o"><svg viewBox="0 -1409 1139 1409"><path transform="translate(190,0) scale(1,-1)" d="M696 0L515 0L515 1123C470 1080 414 1040 347 1002C280 964 220 936 167 918L167 1090C262 1135 346 1190 418 1255C490 1320 541 1384 571 1409L696 1409Z"/></svg></span>00</div><div class="t" style="left:140.8px;top:492.7px;transform:translateX(-50%)">0</div><div class="t" style="left:223.2px;top:492.7px;transform:translateX(-50%)"><span class="o"><svg viewBox="0 -1409 1139 1409"><path transform="translate(190,0) scale(1,-1)" d="M696 0L515 0L515 1123C470 1080 414 1040 347 1002C280 964 220 936 167 918L167 1090C262 1135 346 1190 418 1255C490 1320 541 1384 571 1409L696 1409Z"/></svg></span>00</div><div class="t" style="left:304.4px;top:492.7px;transform:translateX(-50%)">200</div><div class="t" style="left:386.6px;top:492.7px;transform:translateX(-50%)">300</div><div class="t" style="left:468.8px;top:492.7px;transform:translateX(-50%)">400</div><div class="t" style="left:550.8px;top:492.7px;transform:translateX(-50%)">500</div><div class="t" style="left:632.8px;top:492.7px;transform:translateX(-50%)">600</div><div class="t" style="left:48.8px;top:991.9px;transform:translateX(-100%)">0</div><div class="t" style="left:48.8px;top:922.7px;transform:translateX(-100%)">0.2</div><div class="t" style="left:48.8px;top:853.5px;transform:translateX(-100%)">0.4</div><div class="t" style="left:48.8px;top:784.3px;transform:translateX(-100%)">0.6</div><div class="t" style="left:48.8px;top:715.1px;transform:translateX(-100%)">0.8</div><div class="t" style="left:48.8px;top:645.9px;transform:translateX(-100%)"><span class="o"><svg viewBox="0 -1409 1139 1409"><path transform="translate(190,0) scale(1,-1)" d="M696 0L515 0L515 1123C470 1080 414 1040 347 1002C280 964 220 936 167 918L167 1090C262 1135 346 1190 418 1255C490 1320 541 1384 571 1409L696 1409Z"/></svg></span></div><div class="t" style="left:56.5px;top:1004.7px;transform:translateX(-50%)">-<span class="o"><svg viewBox="0 -1409 1139 1409"><path transform="translate(190,0) scale(1,-1)" d="M696 0L515 0L515 1123C470 1080 414 1040 347 1002C280 964 220 936 167 918L167 1090C262 1135 346 1190 418 1255C490 1320 541 1384 571 1409L696 1409Z"/></svg></span>00</div><div class="t" style="left:140.8px;top:1004.7px;transform:translateX(-50%)">0</div><div class="t" style="left:223.2px;top:1004.7px;transform:translateX(-50%)"><span class="o"><svg viewBox="0 -1409 1139 1409"><path transform="translate(190,0) scale(1,-1)" d="M696 0L515 0L515 1123C470 1080 414 1040 347 1002C280 964 220 936 167 918L167 1090C262 1135 346 1190 418 1255C490 1320 541 1384 571 1409L696 1409Z"/></svg></span>00</div><div class="t" style="left:304.4px;top:1004.7px;transform:translateX(-50%)">200</div><div class="t" style="left:386.6px;top:1004.7px;transform:translateX(-50%)">300</div><div class="t" style="left:468.8px;top:1004.7px;transform:translateX(-50%)">400</div><div class="t" style="left:550.8px;top:1004.7px;transform:translateX(-50%)">500</div><div class="t" style="left:632.8px;top:1004.7px;transform:translateX(-50%)">600</div><div class="t" style="font-size:12.75px;left:344.2px;top:114.8px;transform:translateX(-50%)"><span class="o"><svg viewBox="0 -1409 1139 1409"><path transform="translate(190,0) scale(1,-1)" d="M696 0L515 0L515 1123C470 1080 414 1040 347 1002C280 964 220 936 167 918L167 1090C262 1135 346 1190 418 1255C490 1320 541 1384 571 1409L696 1409Z"/></svg></span>0 groups</div><div class="t" style="font-size:12.75px;left:343.8px;top:626.8px;transform:translateX(-50%)">500Random colors</div>
</body></html>
